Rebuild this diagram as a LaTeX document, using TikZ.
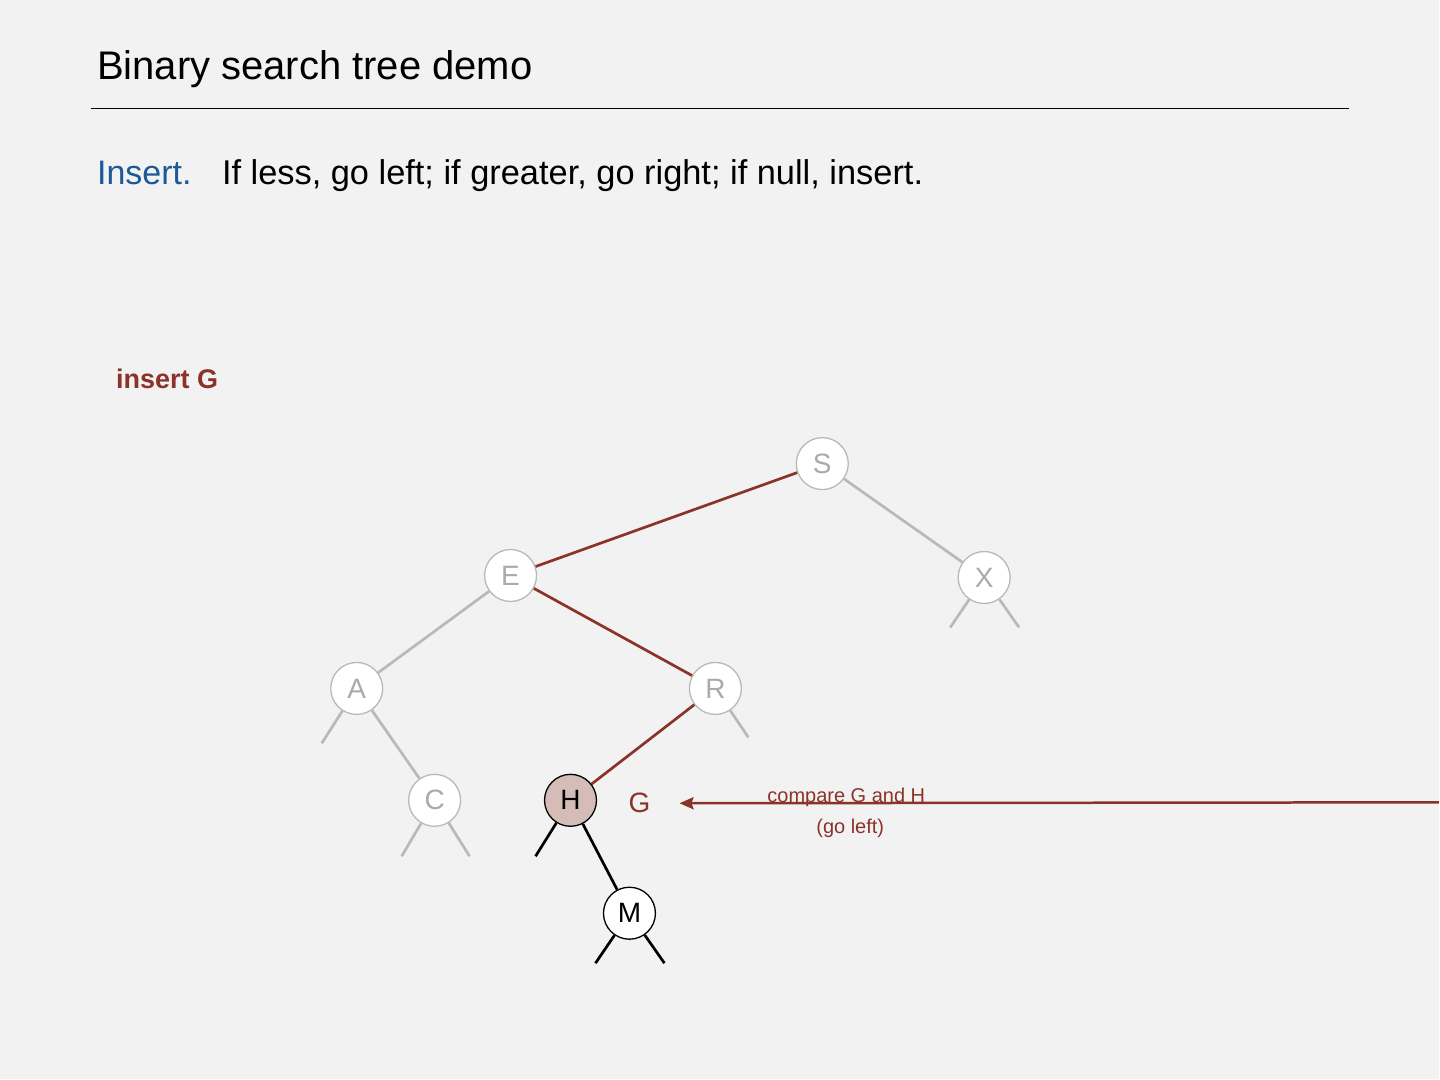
\documentclass[tikz,border=0pt]{standalone}
\usepackage{fontspec}
\setmainfont{Liberation Sans}
\usetikzlibrary{calc,arrows.meta}
\definecolor{slidebg}{RGB}{242,242,242}
\definecolor{bstred}{RGB}{139,51,40}
\definecolor{bstblue}{RGB}{26,90,150}
\definecolor{fadedline}{RGB}{185,185,185}
\definecolor{fadedtext}{RGB}{170,170,170}
\definecolor{hitfill}{RGB}{214,188,183}
\tikzset{
	bstnode/.style={circle, draw=fadedline, fill=white, line width=1.3pt, minimum size=52pt, inner sep=0pt, text=fadedtext, font=\fontsize{28}{28}\selectfont},
	activenode/.style={bstnode, draw=black, text=black},
	fadedlink/.style={draw=fadedline, line width=2.7pt},
	pathlink/.style={draw=bstred, line width=2.7pt},
	activelink/.style={draw=black, line width=2.7pt},
	slidetext/.style={anchor=base west, inner sep=0pt},
}

\begin{document}
\begin{tikzpicture}[x=1pt,y=-1pt]
	\fill[slidebg] (0,0) rectangle (1440,1080);
	\node[slidetext, font=\fontsize{40}{40}\selectfont] (title) at (97,80) {Binary search tree demo};
	\coordinate (ruleleft) at (91,109);
	\coordinate (ruleright) at (1350,109);
	\draw[line width=1pt] (ruleleft) -- (ruleright);
	\node[slidetext, text=bstblue, font=\fontsize{34}{34}\selectfont] (insertword) at (97,185) {Insert.};
	\node[slidetext, font=\fontsize{34.4}{34}\selectfont] (insertrule) at (222,185) {If less, go left; if greater, go right; if null, insert.};
	\node[slidetext, text=bstred, font=\bfseries\fontsize{27}{27}\selectfont] (insertkey) at (116,389) {insert G};

	\node[bstnode] (S) at (823,464) {S};
	\node[bstnode] (E) at (511,576) {E};
	\node[bstnode] (X) at (985,578) {X};
	\node[bstnode] (A) at (357,689) {A};
	\node[bstnode] (R) at (716,689) {R};
	\node[bstnode] (C) at (435,801) {C};
	\node[activenode, fill=hitfill] (H) at (571,801) {H};
	\node[activenode] (M) at (630,914) {M};

	\draw[pathlink] (S) -- (E);
	\draw[fadedlink] (S) -- (X);
	\draw[fadedlink] (E) -- (A);
	\draw[pathlink] (E) -- (R);
	\draw[fadedlink] (A) -- (C);
	\draw[pathlink] (R) -- (H);
	\draw[activelink] (H) -- (M);

	\coordinate (Xleft) at ($(X)+(-34,50)$);
	\coordinate (Xright) at ($(X)+(35,50)$);
	\coordinate (Aleft) at ($(A)+(-35,55)$);
	\coordinate (Rright) at ($(R)+(33,49)$);
	\coordinate (Cleft) at ($(C)+(-33,56)$);
	\coordinate (Cright) at ($(C)+(35,56)$);
	\coordinate (Hleft) at ($(H)+(-35,56)$);
	\coordinate (Mleft) at ($(M)+(-34,50)$);
	\coordinate (Mright) at ($(M)+(35,50)$);
	\draw[fadedlink] (X) -- (Xleft);
	\draw[fadedlink] (X) -- (Xright);
	\draw[fadedlink] (A) -- (Aleft);
	\draw[fadedlink] (R) -- (Rright);
	\draw[fadedlink] (C) -- (Cleft);
	\draw[fadedlink] (C) -- (Cright);
	\draw[activelink] (H) -- (Hleft);
	\draw[activelink] (M) -- (Mleft);
	\draw[activelink] (M) -- (Mright);

	\node[text=bstred, inner sep=0pt, font=\fontsize{28}{28}\selectfont] (G) at (640,804) {G};
	\coordinate (cmptail) at (1440,803);
	\draw[pathlink, line width=2.5pt, -{Stealth[length=14pt,width=12pt,inset=2pt]}, shorten >=29pt] (cmptail) -- (G);
	\node[anchor=base, inner sep=0pt, text=bstred, font=\fontsize{20}{20}\selectfont] (cmplabel) at (847,803) {compare G and H};
	\node[anchor=base, inner sep=0pt, text=bstred, font=\fontsize{20}{20}\selectfont] (cmpnote) at (851,834) {(go left)};
\end{tikzpicture}
\end{document}
